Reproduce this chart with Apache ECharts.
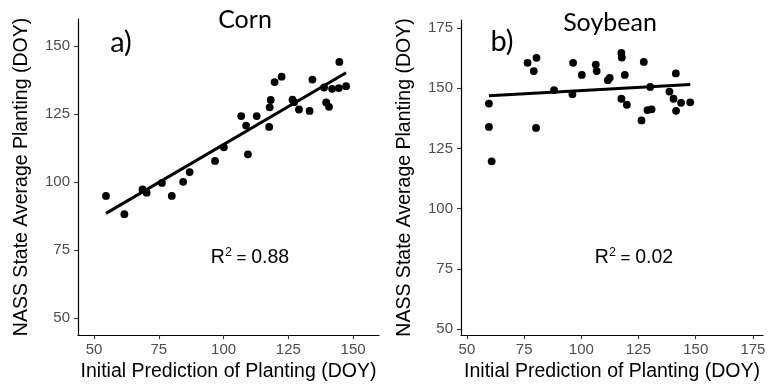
<!DOCTYPE html>
<html>
<head>
<meta charset="utf-8">
<script src="https://cdn.jsdelivr.net/npm/echarts@6/dist/echarts.min.js"></script>
<style>
html,body{margin:0;padding:0;background:#fff;}
#chart{width:770px;height:390px;}
</style>
</head>
<body>
<div id="chart"></div>
<script>
// Corn: initial prediction (x) vs NASS state average planting (y)
var cornPred = [54.6, 61.7, 68.7, 70.3, 76.2, 80.0, 84.4, 86.9, 96.7, 100.1, 106.8, 108.7, 109.4, 112.8, 117.6, 117.8, 118.2, 119.7, 122.4, 126.6, 127.2, 129.1, 133.2, 134.3, 138.8, 139.6, 140.7, 141.9, 144.5, 144.7, 147.3];
var cornObs  = [94.9, 88.2, 97.3, 96.1, 99.7, 94.9, 100.1, 103.7, 107.8, 112.8, 124.3, 120.8, 110.2, 124.3, 120.3, 127.5, 130.2, 136.8, 138.8, 130.3, 129.4, 126.7, 126.2, 137.7, 134.8, 129.3, 127.7, 134.3, 134.6, 144.2, 135.3];
var cornFitX = [54.6, 147.3];
var cornFitY = [88.5, 140.2];

// Soybean
var soyPred = [59.6, 59.6, 60.8, 76.5, 79.2, 80.4, 80.2, 88.1, 96.1, 96.4, 100.2, 106.3, 106.7, 111.6, 112.4, 117.5, 117.7, 117.5, 119.0, 119.9, 126.3, 127.3, 130.1, 128.9, 130.7, 138.5, 140.3, 141.3, 141.4, 143.6, 147.6];
var soyObs  = [143.6, 133.9, 119.6, 160.5, 157.1, 162.6, 133.5, 149.2, 147.5, 160.5, 155.5, 159.8, 157.1, 153.3, 154.3, 164.6, 162.7, 145.6, 155.5, 143.1, 136.6, 160.9, 150.5, 140.9, 141.2, 148.6, 145.6, 156.1, 140.6, 143.9, 144.1];
var soyFitX = [59.6, 147.6];
var soyFitY = [146.8, 151.5];

// Tick labels
var cornXTicks = [50, 75, 100, 125, 150];
var cornYTicks = [50, 75, 100, 125, 150];
var soyXTicks  = [50, 75, 100, 125, 150, 175];
var soyYTicks  = [50, 75, 100, 125, 150, 175];

var titles = ['Corn', 'Soybean'];
var panelTags = ['a)', 'b)'];
var r2Values = ['0.88', '0.02'];
var xTitle = 'Initial Prediction of Planting (DOY)';
var yTitle = 'NASS State Average Planting (DOY)';

function pairs(xs, ys) { return xs.map(function (x, i) { return [x, ys[i]]; }); }

var tickLabelStyle = { color: '#4d4d4d', fontSize: 15, fontFamily: 'Liberation Sans, Arial, sans-serif' };
var nameStyle = { color: '#000', fontSize: 19.5, fontFamily: 'Liberation Sans, Arial, sans-serif' };

function xAxis(idx, min, max, ticks) {
  return {
    type: 'value', gridIndex: idx, min: min, max: max,
    name: xTitle, nameLocation: 'middle', nameGap: 27, nameTextStyle: nameStyle,
    axisLine: { show: true, onZero: false, lineStyle: { color: '#000', width: 1.2 } },
    axisTick: { show: true, length: 4, customValues: ticks, lineStyle: { color: '#333', width: 1.1 } },
    axisLabel: Object.assign({ margin: 7, customValues: ticks }, tickLabelStyle),
    splitLine: { show: false }
  };
}
function yAxis(idx, min, max, ticks) {
  return {
    type: 'value', gridIndex: idx, min: min, max: max,
    name: yTitle, nameLocation: 'middle', nameGap: 46, nameTextStyle: nameStyle,
    axisLine: { show: true, onZero: false, lineStyle: { color: '#000', width: 1.2 } },
    axisTick: { show: true, length: 4, customValues: ticks, lineStyle: { color: '#333', width: 1.1 } },
    axisLabel: Object.assign({ margin: 8, customValues: ticks }, tickLabelStyle),
    splitLine: { show: false }
  };
}

function r2Text(x, y, val) {
  return {
    type: 'text', x: x, y: y,
    style: {
      text: '{r|R}{s|2}{e| = }{r|' + val + '}',
      align: 'center', verticalAlign: 'middle',
      rich: {
        r: { fontSize: 19.5, fontFamily: 'Liberation Sans, Arial, sans-serif', fill: '#000', lineHeight: 24 },
        e: { fontSize: 17, fontFamily: 'Liberation Sans, Arial, sans-serif', fill: '#000', lineHeight: 24 },
        s: { fontSize: 12.5, fontFamily: 'Liberation Sans, Arial, sans-serif', fill: '#000', lineHeight: 24, padding: [0, 0, 11, 0] }
      }
    }
  };
}
function label(x, y, txt, size) {
  return { type: 'text', x: x, y: y, style: { text: txt, fill: '#000', font: size + 'px Lato, "Open Sans", sans-serif', align: 'center', verticalAlign: 'middle' } };
}

var pointStyle = { color: '#000', opacity: 1 };

var chart = echarts.init(document.getElementById('chart'), null, { renderer: 'canvas' });
chart.setOption({
  animation: false,
  backgroundColor: '#fff',
  grid: [
    { left: 78, top: 19, width: 301, height: 316, containLabel: false, outerBoundsMode: 'none' },
    { left: 461, top: 20, width: 302, height: 315, containLabel: false, outerBoundsMode: 'none' }
  ],
  xAxis: [xAxis(0, 43.8, 160, cornXTicks), xAxis(1, 47.4, 179.4, soyXTicks)],
  yAxis: [yAxis(0, 43.75, 160, cornYTicks), yAxis(1, 47.5, 178.3, soyYTicks)],
  series: [
    { type: 'scatter', xAxisIndex: 0, yAxisIndex: 0, data: pairs(cornPred, cornObs), symbol: 'circle', symbolSize: 7.8, itemStyle: pointStyle },
    { type: 'line', xAxisIndex: 0, yAxisIndex: 0, data: pairs(cornFitX, cornFitY), symbol: 'none', lineStyle: { color: '#000', width: 3 }, z: 3 },
    { type: 'scatter', xAxisIndex: 1, yAxisIndex: 1, data: pairs(soyPred, soyObs), symbol: 'circle', symbolSize: 7.8, itemStyle: pointStyle },
    { type: 'line', xAxisIndex: 1, yAxisIndex: 1, data: pairs(soyFitX, soyFitY), symbol: 'none', lineStyle: { color: '#000', width: 3 }, z: 3 }
  ],
  graphic: [
    label(245, 20, titles[0], 25),
    label(121, 43, panelTags[0], 29),
    label(610, 23, titles[1], 25),
    label(502, 42, panelTags[1], 29),
    r2Text(250, 258, r2Values[0]),
    r2Text(634, 258, r2Values[1])
  ]
});
</script>
</body>
</html>
